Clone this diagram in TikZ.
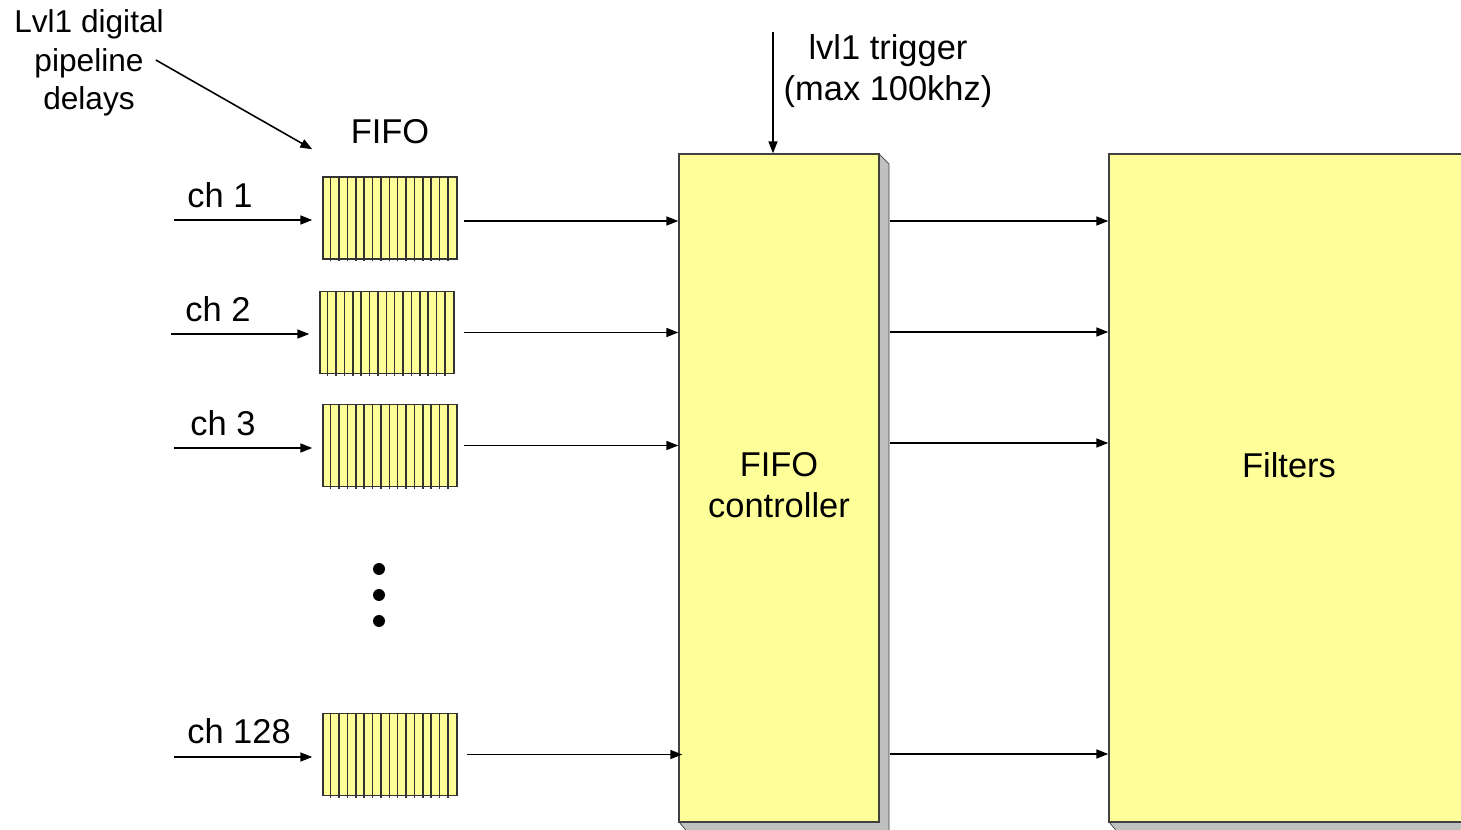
\documentclass[tikz,border=0pt]{standalone}
\usepackage{fontspec}
\setmainfont{Liberation Sans}
\usetikzlibrary{arrows.meta,positioning}
\definecolor{boxyellow}{HTML}{FFFF99}
\definecolor{boxshade}{HTML}{C0C0C0}

\begin{document}
\begin{tikzpicture}[x=0.02cm, y=-0.02cm,
  fifo/.style={rectangle, draw=black!80, line width=0.8pt, fill=boxyellow, minimum width=2.68cm, minimum height=1.64cm, inner sep=0pt},
  blk/.style={rectangle, draw=black!75, line width=0.8pt, fill=boxyellow, inner sep=0pt},
  lbl/.style={font=\fontsize{19.6}{23.2}\selectfont, align=center, inner sep=1pt},
  a/.style={-{Triangle[length=2.4mm,width=1.8mm]}, line width=0.9pt}]
\clip (0,0) rectangle (1461,830);

% shadows of the two big blocks
\filldraw[fill=boxshade, draw=black!75] (679,822) -- (689,834) -- (889,834) -- (889,164) -- (879,154) -- (879,822) -- cycle;
\filldraw[fill=boxshade, draw=black!75] (1109,822) -- (1119,834) -- (1480,834) -- (1480,822) -- cycle;

\node[blk, minimum width=4cm, minimum height=13.36cm] (ctl) at (779,488) {};
\node[blk, minimum width=7.2cm, minimum height=13.36cm] (filt) at (1289,488) {};
\node[lbl] (ctltxt) at (779,485) {FIFO\\controller};
\node[lbl] (filttxt) at (1289,465) {Filters};

% fifo channels
\node[fifo] (f1) at (390,218) {};
\node[fifo] (f2) at (387,332.5) {};
\node[fifo] (f3) at (390,445.5) {};
\node[fifo] (f128) at (390,754.5) {};
\foreach \n in {f1,f2,f3,f128}
  \foreach \i in {1,...,15}
    \draw[black!80, line width=0.8pt] (\n.north west) ++(\i*8.375,0) -- ++(0,85);

\node[lbl] (fifolbl) at (390,132) {FIFO};
\node[lbl] (ch1) at (220,195) {ch 1};
\node[lbl] (ch2) at (218,309) {ch 2};
\node[lbl] (ch3) at (223,423) {ch 3};
\node[lbl] (ch128) at (239,731) {ch 128};

\coordinate (in1) at (174,220);
\coordinate (in2) at (171,334);
\coordinate (in3) at (174,448);
\coordinate (in128) at (174,757);
\draw[a, shorten >=0.2cm] (in1) -- (in1 -| f1.west);
\draw[a, shorten >=0.2cm] (in2) -- (in2 -| f2.west);
\draw[a, shorten >=0.2cm] (in3) -- (in3 -| f3.west);
\draw[a, shorten >=0.2cm] (in128) -- (in128 -| f128.west);

\draw[a] ([xshift=0.12cm, yshift=-0.06cm]f1.east) -- ([yshift=-0.06cm]f1.east -| ctl.west);
\draw[a] ([xshift=0.18cm]f2.east) -- (f2.east -| ctl.west);
\draw[a] ([xshift=0.12cm]f3.east) -- (f3.east -| ctl.west);
\draw[a] ([xshift=0.18cm]f128.east) -- ([xshift=0.08cm]f128.east -| ctl.west);

\foreach \y in {221,332,443,754}
  \draw[a] (ctl.east |- {0,\y}) ++(0.2cm,0) -- (filt.west |- {0,\y});

\foreach \y in {569,595,621}
  \fill (379,\y) circle (0.12cm);

% trigger and pipeline notes
\coordinate (trg) at (773,32);
\draw[a] (trg) -- (trg |- ctl.north);
\node[lbl] (trglbl) at (888,71) {lvl1 trigger\\(max 100khz)};
\node[lbl, font=\fontsize{18}{21.8}\selectfont] (pipe) at (89,63) {Lvl1 digital\\pipeline\\delays};
\draw[a] ([xshift=-0.2cm, yshift=0.06cm]pipe.east) -- ([xshift=-0.2cm, yshift=0.54cm]f1.north west);
\end{tikzpicture}
\end{document}
